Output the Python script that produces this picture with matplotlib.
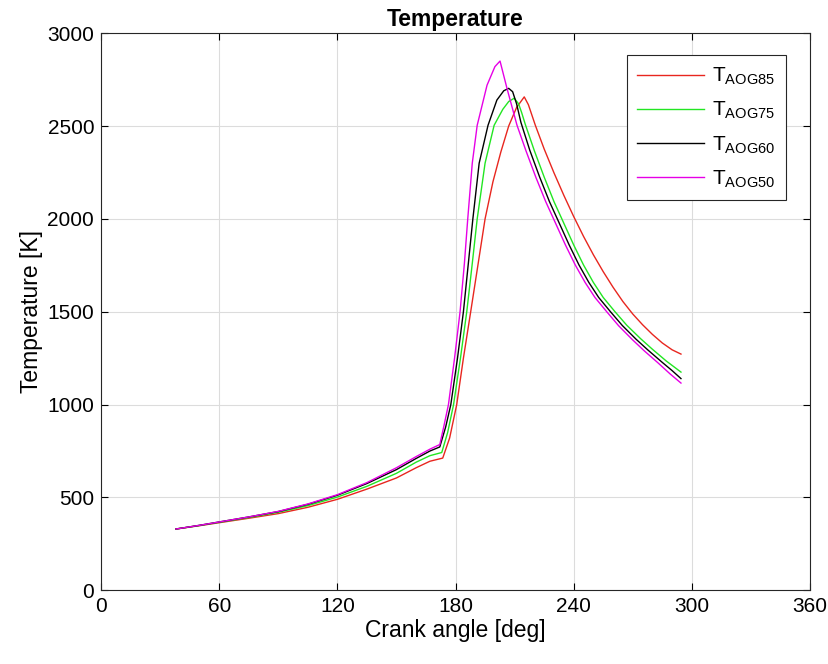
import matplotlib.pyplot as plt

plt.rcParams['font.family'] = ['Liberation Sans', 'DejaVu Sans']
plt.rcParams['mathtext.fontset'] = 'custom'
plt.rcParams['mathtext.rm'] = 'Liberation Sans'
plt.rcParams['mathtext.it'] = 'Liberation Sans'

# crank angle [deg] / temperature [K]
x85 = [38, 50, 60, 75, 90, 105, 120, 135, 150, 160, 167, 173.5, 177, 180.6, 184, 187.7, 191.5, 195, 199, 203,
       207, 211, 214.9, 217, 220.5, 225, 230, 235, 240, 245, 250, 255, 260, 265, 270, 275, 280, 285, 290, 294.5]
t85 = [330, 348, 364, 388, 413, 447, 490, 545, 605, 660, 695, 712, 820, 1000, 1250, 1500, 1760, 2000, 2200, 2360,
       2500, 2600, 2657, 2615, 2505, 2377, 2248, 2127, 2013, 1906, 1807, 1716, 1632, 1555, 1488, 1430, 1378,
       1332, 1295, 1272]

x75 = [38, 50, 60, 75, 90, 105, 120, 135, 150, 160, 167, 173, 176, 179, 182.5, 185.7, 188.5, 191, 195, 199.6,
       204, 207, 209.8, 212, 213.5, 215.4, 220, 225, 230, 234, 240, 245, 250, 255, 261, 267, 274, 280, 287, 294.5]
t75 = [330, 349, 366, 392, 420, 456, 502, 560, 630, 690, 725, 742, 850, 1000, 1250, 1500, 1760, 2000, 2300, 2504,
       2590, 2632, 2650, 2620, 2575, 2510, 2368, 2226, 2093, 2000, 1860, 1752, 1658, 1577, 1500, 1427, 1355,
       1298, 1235, 1175]

x60 = [38, 50, 60, 75, 90, 105, 120, 135, 150, 160, 167, 172, 175, 177.6, 181, 184, 186.5, 188.8, 192, 196.5,
       201, 204.5, 207, 209, 211, 213.2, 217.7, 222.7, 227.7, 231.7, 237.7, 242.7, 247.7, 252.7, 258.7,
       264.7, 271.7, 277.7, 284.7, 290, 294.5]
t60 = [330, 350, 368, 395, 424, 463, 512, 575, 650, 710, 750, 772, 880, 1000, 1250, 1500, 1760, 2000, 2300, 2504,
       2640, 2690, 2703, 2685, 2620, 2520, 2370, 2226, 2093, 2000, 1860, 1752, 1658, 1577, 1500,
       1426, 1352, 1294, 1230, 1183, 1140]

x50 = [38, 50, 60, 75, 90, 105, 120, 135, 150, 160, 167, 172, 174, 176.4, 179.5, 182.3, 184.5, 186.2, 188.5, 191,
       196, 200, 202.6, 206.2, 211.2, 215.8, 220.8, 225.8, 229.8, 235.8, 240.8, 245.8, 250.8, 256.8,
       262.8, 269.8, 275.8, 282.8, 289, 294.5]
t50 = [330, 350, 368, 395, 425, 465, 515, 580, 660, 720, 760, 785, 880, 1000, 1250, 1500, 1760, 2000, 2300, 2504,
       2720, 2820, 2850, 2700, 2505, 2366, 2224, 2093, 2000, 1860, 1752, 1658, 1577, 1500,
       1425, 1350, 1290, 1225, 1165, 1116]

xticks = [0, 60, 120, 180, 240, 300, 360]
yticks = [0, 500, 1000, 1500, 2000, 2500, 3000]

fig = plt.figure(figsize=(8.29, 6.64), dpi=100)
ax = fig.add_axes([0.122, 0.111, 0.855, 0.839])

ax.plot(x85, t85, color='#e8261f', lw=1.0, label=r'$\mathrm{T_{AOG85}}$')
ax.plot(x75, t75, color='#22e622', lw=1.0, label=r'$\mathrm{T_{AOG75}}$')
ax.plot(x60, t60, color='black', lw=1.0, label=r'$\mathrm{T_{AOG60}}$')
ax.plot(x50, t50, color='#e600e6', lw=1.0, label=r'$\mathrm{T_{AOG50}}$')

ax.set_xlim(0, 360)
ax.set_ylim(0, 3000)
ax.set_xticks(xticks)
ax.set_yticks(yticks)
ax.grid(True, color='#dcdcdc', lw=0.8)
ax.set_axisbelow(True)
ax.tick_params(direction='in', labelsize=15, length=5, top=True, right=True, pad=5)
for s in ax.spines.values():
    s.set_color('#262626')
    s.set_linewidth(0.8)

ax.set_title('Temperature', fontsize=16.5, fontweight='bold', pad=5)
ax.set_xlabel('Crank angle [deg]', fontsize=16.5, labelpad=2)
ax.set_ylabel('Temperature [K]', fontsize=16.5, labelpad=3)

leg = ax.legend(loc='upper right', bbox_to_anchor=(0.966, 0.960), borderaxespad=0, fontsize=15,
                handlelength=3.2, handletextpad=0.4, labelspacing=0.62, borderpad=0.5,
                fancybox=False, framealpha=1)
leg.get_frame().set_edgecolor('#262626')
leg.get_frame().set_linewidth(0.8)

fig.savefig('out.png')
